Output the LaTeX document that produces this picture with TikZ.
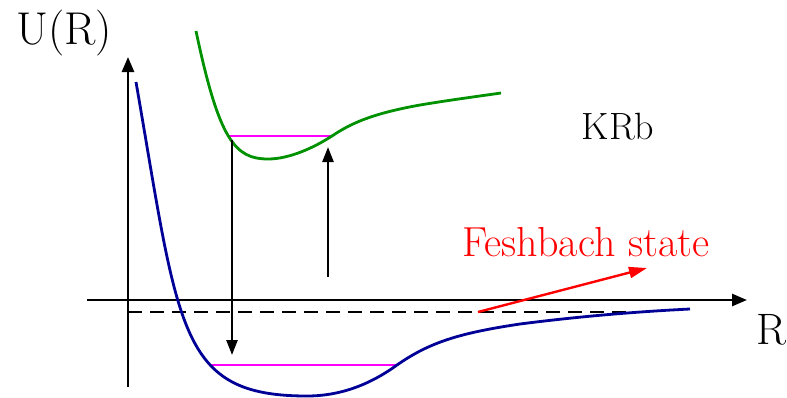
\documentclass[tikz,border=0pt]{standalone}
\usetikzlibrary{arrows.meta}
\begin{document}
\begin{tikzpicture}[x=0.5pt,y=-0.5pt,
  axis/.style={line width=1.3pt,-{Triangle[length=7.5pt,width=6pt]}},
  trans/.style={line width=1.2pt,-{Triangle[length=7.5pt,width=5.5pt]}},
  level/.style={color={rgb,255:red,255;green,0;blue,255},line width=1.4pt},
  pot/.style={line width=1.4pt}]
\useasboundingbox (0,0) rectangle (787,397);
% axes
\coordinate (ya) at (128,387); \coordinate (yb) at (128,57);
\coordinate (xa) at (87,300); \coordinate (xb) at (747,300);
\draw[axis] (ya) -- (yb);
\draw[axis] (xa) -- (xb);
% dashed threshold
\coordinate (da) at (128,312); \coordinate (db) at (655,312);
\draw[line width=1.2pt,dash pattern=on 7pt off 4pt] (da) -- (db);
% levels
\coordinate (l1a) at (210,365); \coordinate (l1b) at (397,365);
\coordinate (l2a) at (228,136); \coordinate (l2b) at (332,136);
\draw[level] (l1a) -- (l1b);
\draw[level] (l2a) -- (l2b);
% ground potential
\draw[pot,color={rgb,255:red,0;green,0;blue,150}] (136,82) .. controls (179,330) and (178,396) .. (307,396)
  .. controls (345,396) and (375,381) .. (l1b)
  .. controls (430,342) and (460,333) .. (520,324)
  .. controls (590,315) and (650,311) .. (690,309);
% excited potential
\draw[pot,color={rgb,255:red,0;green,145;blue,0}] (196,31) .. controls (219,140) and (235,159) .. (268,159)
  .. controls (290,159) and (315,147) .. (l2b)
  .. controls (350,124) and (370,114) .. (420,105)
  .. controls (450,100) and (480,96) .. (501,93);
% transitions
\coordinate (d1) at (232,140); \coordinate (d2) at (232,355);
\draw[trans] (d1) -- (d2);
\coordinate (u1) at (328,277); \coordinate (u2) at (328,147);
\draw[trans] (u1) -- (u2);
\coordinate (r1) at (478,312); \coordinate (r2) at (647,268);
\draw[line width=1.2pt,-{Triangle[length=9pt,width=5.5pt]},red] (r1) -- (r2);
% labels
\node[font=\fontsize{23}{26}\selectfont] (ul) at (64,33) {U(R)};
\node[font=\fontsize{22}{26}\selectfont] (rl) at (771,330) {R};
\node[font=\fontsize{19}{22}\selectfont] (krb) at (618,127) {KRb};
\node[font=\fontsize{21}{24}\selectfont,text=red] (fs) at (586,242) {Feshbach state};
\end{tikzpicture}
\end{document}
